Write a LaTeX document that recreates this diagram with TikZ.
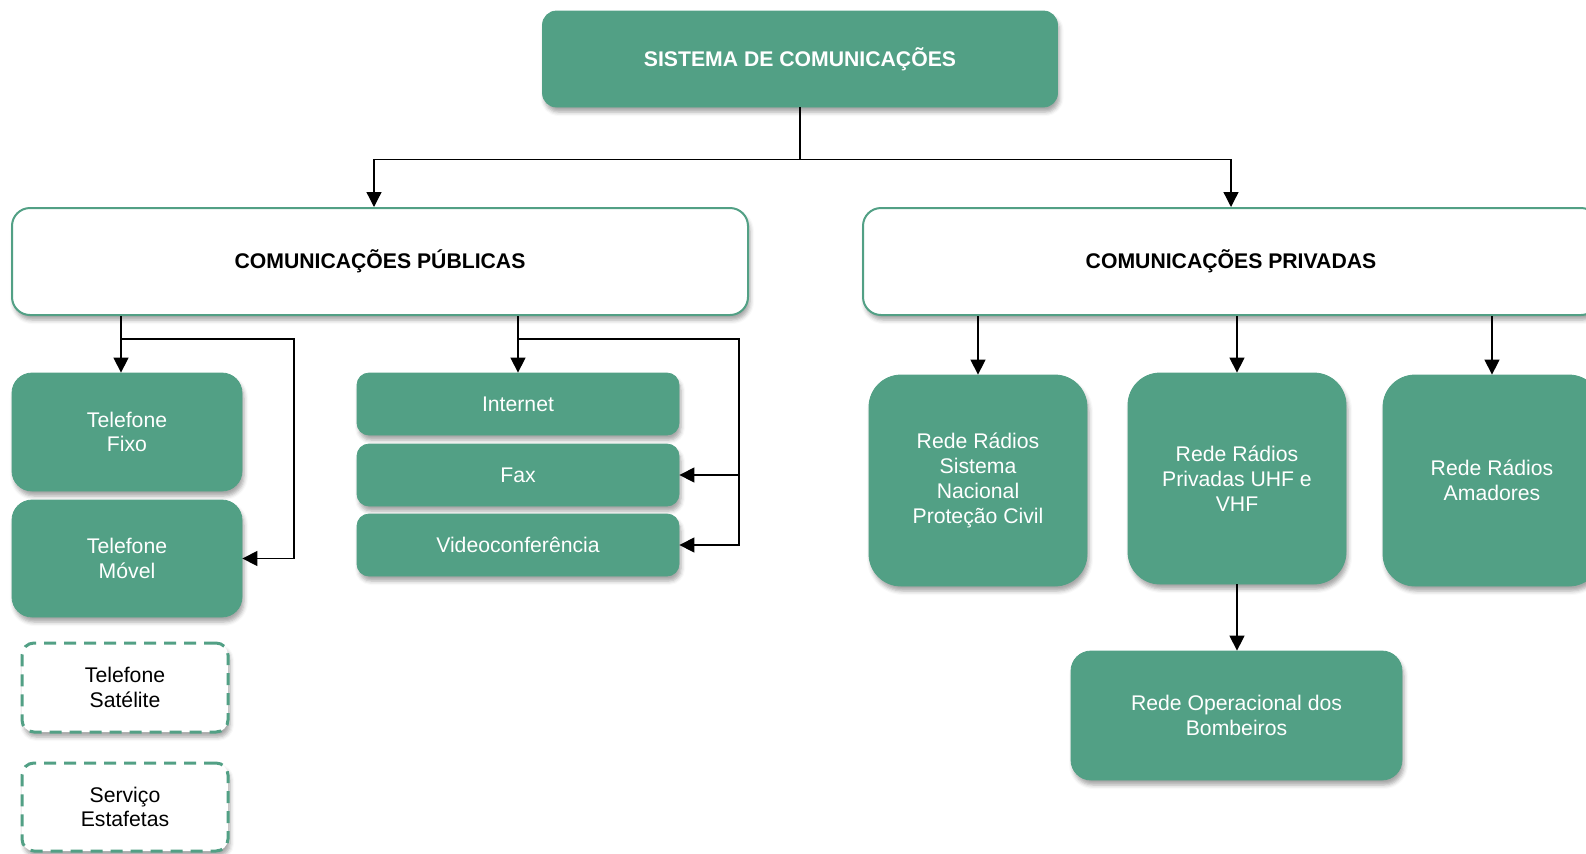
\documentclass[tikz,border=0pt]{standalone}
\usepackage{fontspec}
\setmainfont{Liberation Sans}
\usetikzlibrary{arrows.meta,shadows.blur}
\definecolor{boxgreen}{RGB}{82,160,133}
\newcommand{\boxfont}{\fontsize{10.6}{12.4}\selectfont}
\tikzset{
  boxshadow/.style={blur shadow={shadow xshift=1pt, shadow yshift=-2.5pt, shadow blur radius=2pt, shadow opacity=35}},
  greenbox/.style={fill=boxgreen, draw=boxgreen, text=white, align=center, inner sep=2pt, font=\boxfont, boxshadow},
  headbox/.style={fill=white, draw=boxgreen, line width=1pt, align=center, font=\boxfont\bfseries, boxshadow},
  dashbox/.style={fill=white, draw=boxgreen, line width=1.5pt, dash pattern=on 6pt off 4pt, rounded corners=6pt, align=center, font=\boxfont, boxshadow},
  arr/.style={-{Triangle[length=7.5pt,width=7.5pt]}, line width=0.65pt},
}
\begin{document}
\begin{tikzpicture}[x=0.5pt, y=-0.5pt]
\useasboundingbox (0,0) rectangle (1586,853);

\node[greenbox, minimum width=257.5pt, minimum height=48pt, rounded corners=7pt, font=\boxfont\bfseries] (sis) at (800,59) {SISTEMA DE COMUNICAÇÕES};

\node[headbox, minimum width=368pt, minimum height=53.5pt, rounded corners=9pt] (pub) at (380,261.5) {COMUNICAÇÕES PÚBLICAS};
\node[headbox, minimum width=368pt, minimum height=53.5pt, rounded corners=9pt] (priv) at (1231,261.5) {COMUNICAÇÕES PRIVADAS};

\node[greenbox, minimum width=115pt, minimum height=59pt, rounded corners=10pt] (fixo) at (127,432) {Telefone\\Fixo};
\node[greenbox, minimum width=115pt, minimum height=58.5pt, rounded corners=10pt] (movel) at (127,558.5) {Telefone\\Móvel};
\node[dashbox, minimum width=103pt, minimum height=44.5pt] (sat) at (125,687.5) {Telefone\\Satélite};
\node[dashbox, minimum width=103pt, minimum height=44pt] (est) at (125,807) {Serviço\\Estafetas};

\node[greenbox, minimum width=161pt, minimum height=31pt, rounded corners=6pt] (net) at (518,404) {Internet};
\node[greenbox, minimum width=161pt, minimum height=31pt, rounded corners=6pt] (fax) at (518,475) {Fax};
\node[greenbox, minimum width=161pt, minimum height=31pt, rounded corners=6pt] (video) at (518,545) {Videoconferência};

\node[greenbox, minimum width=109pt, minimum height=105.5pt, rounded corners=16pt] (snpc) at (978,480.5) {Rede Rádios\\Sistema\\Nacional\\Proteção Civil};
\node[greenbox, minimum width=109pt, minimum height=105.5pt, rounded corners=16pt] (uhf) at (1237,478.5) {Rede Rádios\\Privadas UHF e\\VHF};
\node[greenbox, minimum width=109pt, minimum height=105.5pt, rounded corners=16pt] (amad) at (1492,480.5) {Rede Rádios\\Amadores};
\node[greenbox, minimum width=165.5pt, minimum height=64.5pt, rounded corners=10pt] (bomb) at (1236.5,715.5) {Rede Operacional dos\\Bombeiros};

\draw[line width=0.65pt] (sis.south) -- ++(0,52) coordinate (split);
\draw[arr] (split) -| ([xshift=-3pt]pub.north);
\draw[arr] (split) -| (priv.north);

\draw[arr] ([xshift=-3pt]fixo.north |- pub.south) -- ([xshift=-3pt]fixo.north);
\draw[arr] ([xshift=-3pt]fixo.north |- pub.south) ++(0,23) -- ++(173,0) |- (movel.east);

\draw[arr] (net.north |- pub.south) -- (net.north);
\draw[arr] (net.north |- pub.south) ++(0,23) -- ++(221,0) |- (fax.east);
\draw[arr] (net.north |- pub.south) ++(0,23) ++(221,0) |- (video.east);

\draw[arr] (snpc.north |- priv.south) -- (snpc.north);
\draw[arr] (uhf.north |- priv.south) -- (uhf.north);
\draw[arr] (amad.north |- priv.south) -- (amad.north);
\draw[arr] (uhf.south) -- (uhf.south |- bomb.north);

\end{tikzpicture}
\end{document}
